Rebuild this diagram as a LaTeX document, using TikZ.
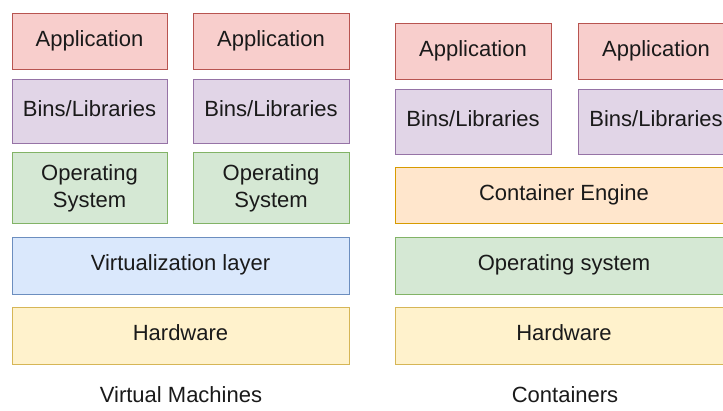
\documentclass[tikz,border=0pt]{standalone}
\usepackage{fontspec}
\setmainfont{Liberation Sans}
\definecolor{redF}{HTML}{F8CECC}\definecolor{redS}{HTML}{B85450}
\definecolor{purF}{HTML}{E1D5E7}\definecolor{purS}{HTML}{9673A6}
\definecolor{grnF}{HTML}{D5E8D4}\definecolor{grnS}{HTML}{82B366}
\definecolor{bluF}{HTML}{DAE8FC}\definecolor{bluS}{HTML}{6C8EBF}
\definecolor{yelF}{HTML}{FFF2CC}\definecolor{yelS}{HTML}{D6B656}
\definecolor{orgF}{HTML}{FFE6CC}\definecolor{orgS}{HTML}{D79B00}
\definecolor{txt}{HTML}{1A1A1A}
\tikzset{
  layer/.style={rectangle, line width=1pt, inner sep=0pt, text=txt,
    font=\fontsize{22}{27}\selectfont, text height=16pt, text depth=6pt},
  appbox/.style={layer, fill=redF, draw=redS},
  binbox/.style={layer, fill=purF, draw=purS},
  osbox/.style={layer, fill=grnF, draw=grnS},
  virtbox/.style={layer, fill=bluF, draw=bluS},
  hwbox/.style={layer, fill=yelF, draw=yelS},
  engbox/.style={layer, fill=orgF, draw=orgS},
  caption/.style={text=txt, font=\fontsize{22}{27}\selectfont, anchor=base, inner sep=0pt},
}
\begin{document}
\begin{tikzpicture}[x=1pt,y=-1pt]
\useasboundingbox (0,0) rectangle (723,410);
\fill[white] (0,0) rectangle (723,410);
\clip (0,0) rectangle (723,410);
% Virtual machines
\node[appbox, minimum width=155pt, minimum height=56pt] (app1) at (89.5,41) {Application};
\node[appbox, minimum width=156pt, minimum height=56pt] (app2) at (271,41) {Application};
\node[binbox, minimum width=155pt, minimum height=64pt] (bin1) at (89.5,111) {Bins/Libraries};
\node[binbox, minimum width=156pt, minimum height=64pt] (bin2) at (271,111) {Bins/Libraries};
\node[osbox, minimum width=155pt, minimum height=71pt] (os1) at (89.5,187.5) {};
\node[caption] (os1a) at (89.5,180) {Operating};
\node[caption] (os1b) at (89.5,207) {System};
\node[osbox, minimum width=156pt, minimum height=71pt] (os2) at (271,187.5) {};
\node[caption] (os2a) at (271,180) {Operating};
\node[caption] (os2b) at (271,207) {System};
\node[virtbox, minimum width=337pt, minimum height=57pt, text depth=7pt] (virt) at (180.5,265.5) {Virtualization layer};
\node[hwbox, minimum width=337pt, minimum height=57pt, text depth=7pt] (hw1) at (180.5,335.5) {Hardware};
\node[caption] (vmcap) at (181,402) {Virtual Machines};
% Containers
\node[appbox, minimum width=156pt, minimum height=56pt] (app3) at (473,51) {Application};
\node[appbox, minimum width=156pt, minimum height=56pt] (app4) at (656,51) {Application};
\node[binbox, minimum width=156pt, minimum height=65pt] (bin3) at (473,121.5) {Bins/Libraries};
\node[binbox, minimum width=156pt, minimum height=65pt] (bin4) at (656,121.5) {Bins/Libraries};
\node[engbox, minimum width=338pt, minimum height=56pt] (eng) at (564,195) {Container Engine};
\node[osbox, minimum width=338pt, minimum height=57pt, text depth=7pt] (os3) at (564,265.5) {Operating system};
\node[hwbox, minimum width=338pt, minimum height=57pt, text depth=7pt] (hw2) at (564,335.5) {Hardware};
\node[caption] (ctcap) at (565,402) {Containers};
\end{tikzpicture}
\end{document}
